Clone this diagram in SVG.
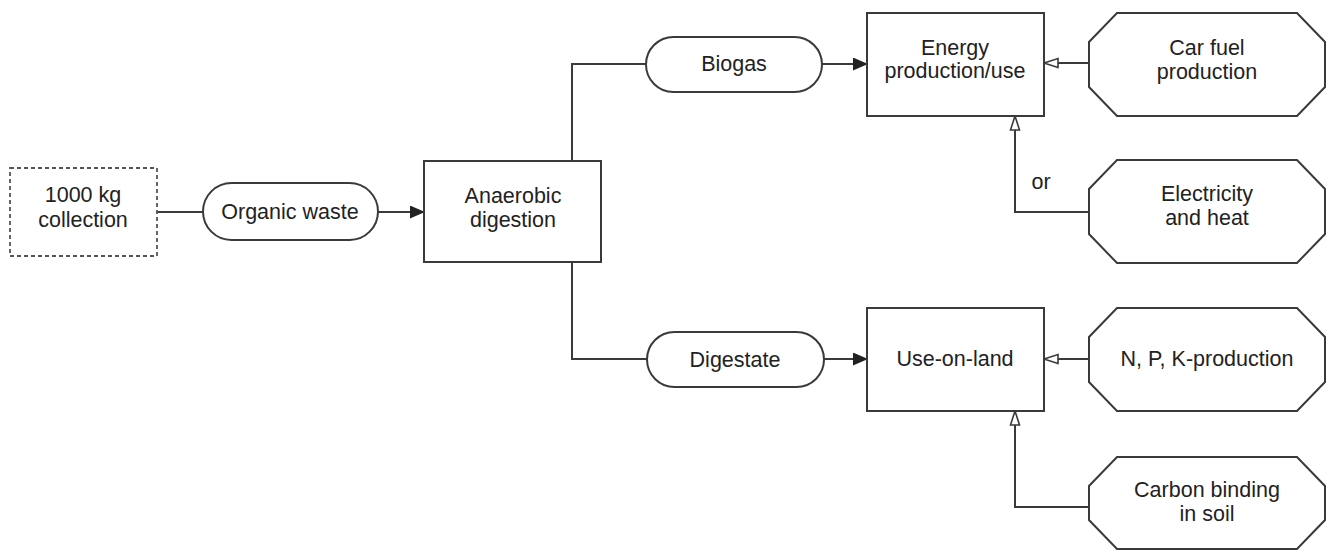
<svg xmlns="http://www.w3.org/2000/svg" width="1330" height="553" viewBox="0 0 1330 553">
<style>
.box{fill:#fff;stroke:#3a3a3a;stroke-width:2}
.dash{fill:#fff;stroke:#555;stroke-width:1.8;stroke-dasharray:4,3}
.ln{fill:none;stroke:#3a3a3a;stroke-width:2}
text{font-family:"Liberation Sans",Arial,sans-serif;font-size:21.5px;fill:#222;text-anchor:middle;dominant-baseline:central}
</style>
<defs>
<marker id="fa" markerWidth="15" markerHeight="13" refX="14" refY="6.5" orient="auto" markerUnits="userSpaceOnUse"><path d="M0,0 L15,6.5 L0,13 Z" fill="#222"/></marker>
<marker id="ha" markerWidth="16" markerHeight="12" refX="15" refY="6" orient="auto" markerUnits="userSpaceOnUse"><path d="M1,1.5 L15,6 L1,10.5 Z" fill="#fff" stroke="#3a3a3a" stroke-width="1.6"/></marker>
</defs>
<g id="connectors">
<line class="ln" x1="157" y1="212" x2="203" y2="212"/>
<line class="ln" x1="378" y1="212" x2="424" y2="212" marker-end="url(#fa)"/>
<polyline class="ln" points="572,161 572,64 646,64"/>
<polyline class="ln" points="572,262 572,359 647,359"/>
<line class="ln" x1="822" y1="64" x2="867" y2="64" marker-end="url(#fa)"/>
<line class="ln" x1="824" y1="359" x2="867" y2="359" marker-end="url(#fa)"/>
<line class="ln" x1="1089" y1="63" x2="1044" y2="63" marker-end="url(#ha)"/>
<polyline class="ln" points="1089,212 1015,212 1015,116" marker-end="url(#ha)"/>
<line class="ln" x1="1089" y1="359" x2="1044" y2="359" marker-end="url(#ha)"/>
<polyline class="ln" points="1089,507 1015,507 1015,411" marker-end="url(#ha)"/>
<text x="1041" y="182">or</text>
</g>
<g id="collection">
<rect class="dash" x="10" y="168" width="147" height="88"/>
<text x="83" y="195">1000 kg</text>
<text x="83" y="220">collection</text>
</g>
<g id="organic">
<rect class="box" x="203" y="183" width="175" height="57" rx="28.5"/>
<text x="290" y="212">Organic waste</text>
</g>
<g id="anaerobic">
<rect class="box" x="424" y="161" width="177" height="101"/>
<text x="513" y="196">Anaerobic</text>
<text x="513" y="220">digestion</text>
</g>
<g id="biogas">
<rect class="box" x="646" y="37" width="176" height="55" rx="27.5"/>
<text x="734" y="64">Biogas</text>
</g>
<g id="digestate">
<rect class="box" x="647" y="332" width="177" height="55" rx="27.5"/>
<text x="735" y="360">Digestate</text>
</g>
<g id="energy">
<rect class="box" x="867" y="13" width="177" height="103"/>
<text x="955" y="48">Energy</text>
<text x="955" y="71">production/use</text>
</g>
<g id="useonland">
<rect class="box" x="867" y="308" width="177" height="103"/>
<text x="955" y="359">Use-on-land</text>
</g>
<g id="carfuel">
<polygon class="box" points="1117,13 1297,13 1325,42 1325,87 1297,116 1117,116 1089,87 1089,42"/>
<text x="1207" y="48">Car fuel</text>
<text x="1207" y="72">production</text>
</g>
<g id="electricity">
<polygon class="box" points="1117,160 1297,160 1325,189 1325,234 1297,263 1117,263 1089,234 1089,189"/>
<text x="1207" y="194">Electricity</text>
<text x="1207" y="218">and heat</text>
</g>
<g id="npk">
<polygon class="box" points="1117,308 1297,308 1325,337 1325,382 1297,411 1117,411 1089,382 1089,337"/>
<text x="1207" y="359">N, P, K-production</text>
</g>
<g id="carbon">
<polygon class="box" points="1117,457 1297,457 1325,486 1325,520 1297,549 1117,549 1089,520 1089,486"/>
<text x="1207" y="490">Carbon binding</text>
<text x="1207" y="514">in soil</text>
</g>
</svg>
